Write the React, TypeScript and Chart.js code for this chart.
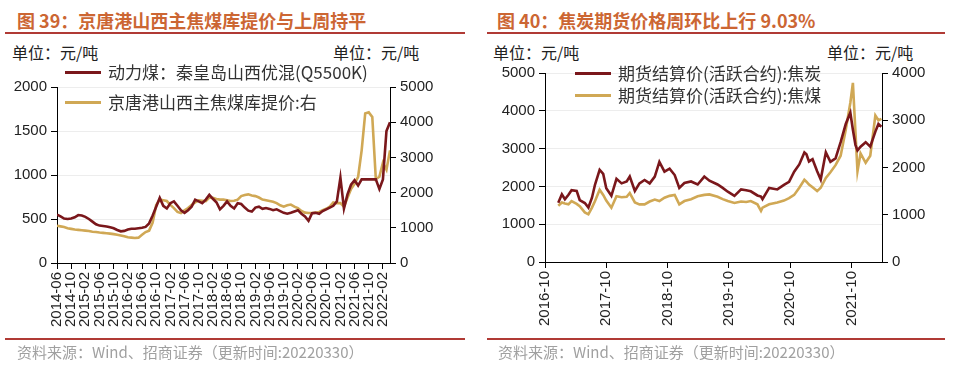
import React, { useEffect, useRef } from 'react';
import { Chart, registerables } from 'chart.js';
Chart.register(...registerables);

// ---------- Figure 39 data (monthly, from 2014-06; last point ≈ end of 2022-03) ----------
const leftTickLabels = [
  '2014-06', '2014-10', '2015-02', '2015-06', '2015-10', '2016-02', '2016-06', '2016-10',
  '2017-02', '2017-06', '2017-10', '2018-02', '2018-06', '2018-10', '2019-02', '2019-06',
  '2019-10', '2020-02', '2020-06', '2020-10', '2021-02', '2021-06', '2021-10', '2022-02',
];
// 动力煤：秦皇岛山西优混(Q5500K), left axis
const thermalCoal = [
  550, 530, 505, 500, 505, 520, 545, 540, 525, 500,
  470, 440, 425, 420, 415, 405, 395, 375, 360, 365,
  380, 390, 390, 395, 400, 410, 450, 540, 640, 740,
  650, 620, 680, 700, 650, 600, 570, 600, 640, 720,
  700, 680, 720, 775, 730, 690, 610, 650, 700, 650,
  620, 680, 670, 630, 595, 585, 630, 640, 615, 625,
  615, 600, 610, 590, 570, 560, 570, 585, 600, 560,
  530, 480, 565, 570, 560, 590, 610, 630, 650, 700,
  970, 620, 780, 890, 940, 880, 950, 950, 950, 950,
  950, 840, 950, 1500, 1600,
];
// 京唐港山西主焦煤库提价, right axis
const cokingCoalJT = [
  1060, 1040, 1020, 990, 970, 950, 940, 930, 920, 910,
  890, 880, 865, 855, 845, 835, 820, 800, 780, 760,
  730, 720, 710, 720, 800, 880, 920, 1150, 1650, 1800,
  1780, 1760, 1650, 1560, 1450, 1420, 1500, 1560, 1650, 1720,
  1780, 1770, 1760, 1860, 1850, 1820, 1800, 1800, 1780, 1760,
  1770, 1800, 1900, 1930, 1950, 1920, 1900, 1860, 1800, 1780,
  1760, 1740, 1700, 1640, 1600, 1640, 1660, 1600, 1560, 1480,
  1430, 1420, 1420, 1430, 1450, 1500, 1540, 1600, 1720, 1700,
  1700, 1600, 1850, 2100, 2250, 2450, 3200, 4250, 4280, 4150,
  2380, 2450, 2850, 2650, 3200,
];

// ---------- Figure 40 data (month offsets from 2016-10) ----------
const rightTickLabels = ['2016-10', '2017-10', '2018-10', '2019-10', '2020-10', '2021-10'];
const futMonths = [
  2.6, 3.3, 3.9, 4.6, 5.2, 6.2, 6.8, 7.8, 8.5, 9.2,
  9.8, 10.7, 11.4, 12, 13, 14, 15, 16, 16.6, 17.6,
  18.5, 19.5, 20.5, 21.5, 22.4, 23.4, 24.4, 25.4, 26.3, 27.3,
  28.6, 29.9, 31.2, 32.2, 33.8, 34.8, 35.8, 37.1, 38.4, 39.4,
  40.3, 41.6, 42.3, 42.6, 43.9, 45.5, 46.8, 47.8, 48.8, 49.8,
  50.8, 51.2, 51.7, 52.4, 53.3, 54, 55, 55.9, 56.9, 57.9,
  58.9, 59.8, 60.3, 60.8, 61.2, 61.8, 62.8, 63.7, 64.7, 65.3,
  65.9,
];
// 期货结算价(活跃合约):焦炭, left axis
const cokeFut = [
  1570, 1790, 1660, 1780, 1900, 1880, 1640, 1560, 1440, 1700,
  2050, 2440, 2330, 1950, 1750, 2200, 2080, 2130, 2260, 1880,
  2080, 2170, 2080, 2260, 2650, 2390, 2470, 2300, 1960, 2090,
  2130, 2050, 2260, 2150, 2050, 1960, 1860, 1750, 1920, 1900,
  1870, 1760, 1730, 1660, 1960, 1920, 2040, 2120, 2390, 2580,
  2900, 2850, 2660, 2720, 2400, 2180, 2900, 2650, 2740, 3170,
  3650, 3950, 3500, 3100, 2950, 3050, 3170, 3050, 3450, 3650,
  3580,
];
// 期货结算价(活跃合约):焦煤, right axis
const cokingFut = [
  1190, 1260, 1240, 1220, 1290, 1230, 1180, 1050, 1010, 1150,
  1290, 1530, 1420, 1300, 1150, 1390, 1370, 1380, 1460, 1260,
  1220, 1220, 1280, 1320, 1290, 1360, 1400, 1420, 1220, 1290,
  1330, 1390, 1420, 1430, 1380, 1330, 1290, 1250, 1280, 1270,
  1290, 1220, 1080, 1150, 1220, 1260, 1300, 1350, 1420, 1570,
  1740, 1700, 1640, 1580, 1500, 1570, 1780, 1900, 2050, 2250,
  2800, 3370, 3790, 2750, 1920, 2300, 2100, 2250, 3100, 3000,
  3030,
];

const RED = '#7A171B';
const GOLD = '#D0A855';
const NUM_FONT = "'Liberation Sans', Arial, sans-serif";
const CJK_FONT = '"Noto Sans CJK SC", "Noto Sans", sans-serif';

// Draws the rotated x tick labels at the x scale's own tick positions.
const xLabelPlugin = {
  id: 'xLabels',
  afterDraw(chart: any) {
    const po = chart.options.plugins.xLabels;
    if (!po) return;
    const s = chart.scales.x;
    const ctx = chart.ctx;
    ctx.save();
    ctx.font = '15px ' + NUM_FONT;
    ctx.fillStyle = '#222';
    ctx.textAlign = 'right';
    ctx.textBaseline = 'middle';
    s.ticks.forEach((t: any) => {
      const idx = po.vals.findIndex((v: number) => Math.abs(v - t.value) < 1e-6);
      if (idx < 0) return;
      const x = s.getPixelForValue(t.value);
      ctx.save();
      ctx.translate(x, s.top + 9);
      ctx.rotate(-Math.PI / 2);
      ctx.fillText(po.labels[idx], 0, 0);
      ctx.restore();
    });
    ctx.restore();
  },
};

function makeConfig(opts: any): any {
  const { d1, d2, yMax, y1Max, yStep, y1Step, xMax, tickVals, tickLabels, yW, y1W, xH, l1, l2 } = opts;
  const tickFont = { family: NUM_FONT, size: 15 };
  return {
    type: 'line',
    plugins: [xLabelPlugin],
    data: {
      datasets: [
        { label: l1, data: d1, borderColor: RED, backgroundColor: RED, borderWidth: 2.6, pointRadius: 0, yAxisID: 'y', tension: 0 },
        { label: l2, data: d2, borderColor: GOLD, backgroundColor: GOLD, borderWidth: 2.6, pointRadius: 0, yAxisID: 'y1', tension: 0 },
      ],
    },
    options: {
      animation: false,
      responsive: false,
      maintainAspectRatio: false,
      layout: { padding: { top: 10, left: 0, right: 0, bottom: 0 } },
      plugins: { legend: { display: false }, tooltip: { enabled: false }, xLabels: { vals: tickVals, labels: tickLabels } },
      scales: {
        x: {
          type: 'linear',
          min: 0,
          max: xMax,
          afterBuildTicks: (s: any) => { s.ticks = tickVals.map((v: number) => ({ value: v })); },
          afterFit: (s: any) => { s.height = xH; },
          ticks: { display: false, autoSkip: false },
          grid: { drawOnChartArea: false, drawTicks: true, tickLength: 6, tickColor: '#000' },
          border: { color: '#000', width: 1 },
        },
        y: {
          position: 'left', min: 0, max: yMax,
          afterFit: (s: any) => { s.width = yW; },
          ticks: { stepSize: yStep, font: tickFont, color: '#222', padding: 4, callback: (v: any) => String(v) },
          grid: { color: '#ededed', tickColor: '#000', tickLength: 6 },
          border: { color: '#000', width: 1 },
        },
        y1: {
          position: 'right', min: 0, max: y1Max,
          afterFit: (s: any) => { s.width = y1W; },
          ticks: { stepSize: y1Step, font: tickFont, color: '#222', padding: 4, callback: (v: any) => String(v) },
          grid: { drawOnChartArea: false, tickColor: '#000', tickLength: 6 },
          border: { color: '#000', width: 1 },
        },
      },
    },
  };
}

const abs = (left: number, top: number, extra: any = {}): any => ({ position: 'absolute', left, top, ...extra });

function Legend({ x, y, gap, items }: { x: number; y: number; gap: number; items: { color: string; text: string }[] }) {
  return (
    <>
      {items.map((it, i) => (
        <div key={i} style={abs(x, y + i * gap - 11, { height: 22, display: 'flex', alignItems: 'center', whiteSpace: 'nowrap' })}>
          <span style={{ display: 'inline-block', width: 36, height: 3, background: it.color, marginRight: 7 }} />
          <span style={{ fontFamily: CJK_FONT, fontSize: 17, color: '#333', lineHeight: '22px' }}>{it.text}</span>
        </div>
      ))}
    </>
  );
}

export default function App() {
  const leftRef = useRef<HTMLCanvasElement>(null);
  const rightRef = useRef<HTMLCanvasElement>(null);

  useEffect(() => {
    const leftCfg = makeConfig({
      d1: thermalCoal.map((v, i) => ({ x: i, y: v })),
      d2: cokingCoalJT.map((v, i) => ({ x: i, y: v })),
      yMax: 2000, y1Max: 5000, yStep: 500, y1Step: 1000,
      xMax: 94,
      tickVals: leftTickLabels.map((_, i) => i * 4),
      tickLabels: leftTickLabels,
      yW: 57, y1W: 90, xH: 81,
      l1: '动力煤：秦皇岛山西优混(Q5500K)', l2: '京唐港山西主焦煤库提价:右',
    });
    const rightCfg = makeConfig({
      d1: futMonths.map((m, i) => ({ x: m, y: cokeFut[i] })),
      d2: futMonths.map((m, i) => ({ x: m, y: cokingFut[i] })),
      yMax: 5000, y1Max: 4000, yStep: 1000, y1Step: 1000,
      xMax: 66,
      tickVals: rightTickLabels.map((_, i) => i * 12),
      tickLabels: rightTickLabels,
      yW: 60, y1W: 85, xH: 82,
      l1: '期货结算价(活跃合约):焦炭', l2: '期货结算价(活跃合约):焦煤',
    });
    const c1 = new Chart(leftRef.current!, leftCfg);
    const c2 = new Chart(rightRef.current!, rightCfg);
    return () => { c1.destroy(); c2.destroy(); };
  }, []);

  const titleStyle = { fontFamily: CJK_FONT, fontSize: 18, fontWeight: 700, color: '#CC6633', lineHeight: '24px', whiteSpace: 'nowrap' };
  const unitStyle = { fontFamily: CJK_FONT, fontSize: 16, color: '#222', lineHeight: '20px', whiteSpace: 'nowrap' };
  const srcStyle = { fontFamily: CJK_FONT, fontSize: 15, color: '#a0a0a0', lineHeight: '20px', whiteSpace: 'nowrap' };
  const rule = (x: number, y: number, w: number) => <div style={abs(x, y, { width: w, height: 2, background: '#B03A35' })} />;

  return (
    <div style={{ position: 'absolute', left: 0, top: 0, width: 967, height: 370, background: '#fff', overflow: 'hidden' }}>
      {/* Left panel */}
      <div style={abs(17, 8, titleStyle)}>图 39：京唐港山西主焦煤库提价与上周持平</div>
      {rule(5, 32, 460)}
      <div style={abs(12, 42, unitStyle)}>单位：元/吨</div>
      <div style={abs(333, 42, unitStyle)}>单位：元/吨</div>
      <canvas ref={leftRef} width={480} height={270} style={abs(0, 74, { width: 480, height: 270 })} />
      <Legend x={65} y={72} gap={30} items={[
        { color: RED, text: '动力煤：秦皇岛山西优混(Q5500K)' },
        { color: GOLD, text: '京唐港山西主焦煤库提价:右' },
      ]} />
      {rule(5, 338, 460)}
      <div style={abs(17, 342, srcStyle)}>资料来源：Wind、招商证券（更新时间:20220330）</div>

      {/* Right panel */}
      <div style={abs(497, 8, titleStyle)}>图 40：焦炭期货价格周环比上行 9.03%</div>
      {rule(487, 32, 458)}
      <div style={abs(493, 42, unitStyle)}>单位：元/吨</div>
      <div style={abs(827, 42, unitStyle)}>单位：元/吨</div>
      <canvas ref={rightRef} width={482} height={284} style={abs(485, 60, { width: 482, height: 284 })} />
      <Legend x={575} y={73} gap={22} items={[
        { color: RED, text: '期货结算价(活跃合约):焦炭' },
        { color: GOLD, text: '期货结算价(活跃合约):焦煤' },
      ]} />
      {rule(487, 338, 458)}
      <div style={abs(498, 342, srcStyle)}>资料来源：Wind、招商证券（更新时间:20220330）</div>
    </div>
  );
}
